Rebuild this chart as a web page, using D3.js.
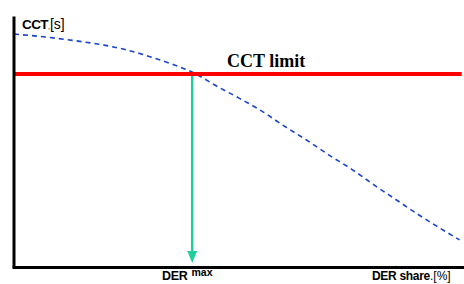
<!DOCTYPE html>
<html><head><meta charset="utf-8">
<script src="https://cdn.jsdelivr.net/npm/d3@7"></script>
<style>body{margin:0;background:#fff}svg{display:block}</style>
</head><body>
<svg id="c" width="464" height="284"></svg>
<script>
// DER share (%) and CCT (relative units)
const derShare = [0,5,10,15,20,25,30,35,40,45,50,55,60,65,70,75,80,85,90,95,99];
const cctValues = [0.928,0.920,0.910,0.898,0.884,0.865,0.839,0.809,0.773,0.721,0.673,0.622,0.562,0.506,0.446,0.390,0.327,0.267,0.207,0.151,0.108];
const cctLimit = 0.769;
const derMax = 39.6;
const labels = {y:["CCT", ",", "[s]"], x:["DER share", ".[%]"], limit:"CCT limit", derMax:["DER","max"]};

const svg = d3.select("#c");
const x = d3.scaleLinear().domain([0,100]).range([14,464]);
const y = d3.scaleLinear().domain([0,1]).range([267,16]);

// curve
svg.append("path")
  .datum(derShare.map((d,i)=>[d,cctValues[i]]))
  .attr("fill","none").attr("stroke","#1a44cc").attr("stroke-width",1.6)
  .attr("stroke-dasharray","5,4")
  .attr("d", d3.line().x(d=>x(d[0])).y(d=>y(d[1])).curve(d3.curveMonotoneX));

// CCT limit line
svg.append("line").attr("x1",x(0)).attr("x2",x(99.5)).attr("y1",y(cctLimit)).attr("y2",y(cctLimit))
  .attr("stroke","#ff0000").attr("stroke-width",4);

// green arrow
const ax = x(derMax);
svg.append("line").attr("x1",ax).attr("x2",ax).attr("y1",y(cctLimit)+2).attr("y2",y(0)-14)
  .attr("stroke","#1fcf9b").attr("stroke-width",2.5);
svg.append("path").attr("fill","#1fcf9b")
  .attr("d",`M${ax-5},${y(0)-16} L${ax+5},${y(0)-16} L${ax},${y(0)-4} Z`);

// axes
svg.append("g").attr("transform",`translate(${x(0)-0.5},0)`)
  .call(d3.axisLeft(y).ticks(0).tickSize(0).tickSizeOuter(0))
  .call(g=>g.select(".domain").attr("stroke","#000").attr("stroke-width",3));
svg.append("g").attr("transform",`translate(0,${y(0)})`)
  .call(d3.axisBottom(d3.scaleLinear().domain([0,100]).range([12,464])).ticks(0).tickSize(0).tickSizeOuter(0))
  .call(g=>g.select(".domain").attr("stroke","#000").attr("stroke-width",3));

// labels
const yl = svg.append("text").attr("x",22).attr("y",29).attr("font-family","Liberation Sans, Arial, sans-serif");
yl.append("tspan").attr("font-weight","bold").attr("font-size",13.5).attr("letter-spacing",-0.6).text(labels.y[0]);
yl.append("tspan").attr("font-size",7).text(labels.y[1]);
yl.append("tspan").attr("font-size",14).text(labels.y[2]);

svg.append("text").attr("x",227).attr("y",67).attr("font-family","Liberation Serif, Times New Roman, serif")
  .attr("font-weight","bold").attr("font-size",18).text(labels.limit);

const dl = svg.append("text").attr("x",162).attr("y",280).attr("font-family","Liberation Sans, Arial, sans-serif").attr("font-weight","bold");
dl.append("tspan").attr("font-size",12.5).attr("letter-spacing",-0.3).text(labels.derMax[0]);
dl.append("tspan").attr("font-size",10.5).attr("dx",4).attr("dy",-4).text(labels.derMax[1]);

const xl = svg.append("text").attr("x",372).attr("y",280).attr("font-family","Liberation Sans, Arial, sans-serif");
xl.append("tspan").attr("font-weight","bold").attr("font-size",12).attr("letter-spacing",-0.3).text(labels.x[0]);
xl.append("tspan").attr("font-size",12).text(labels.x[1]);
</script>
</body></html>
